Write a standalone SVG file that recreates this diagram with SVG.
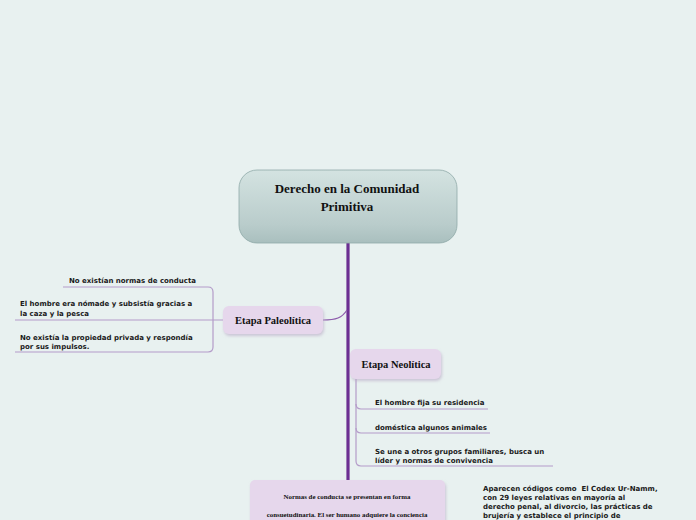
<svg xmlns="http://www.w3.org/2000/svg" width="696" height="520" viewBox="0 0 696 520">
<defs>
<linearGradient id="rootGrad" x1="0" y1="0" x2="0" y2="1">
<stop offset="0" stop-color="#d4e3e1"/>
<stop offset="0.75" stop-color="#b9cccb"/>
<stop offset="1" stop-color="#a9bfbe"/>
</linearGradient>
<filter id="sh" x="-10%" y="-20%" width="120%" height="150%">
<feDropShadow dx="1" dy="2" stdDeviation="1.5" flood-color="#b8a8c4" flood-opacity="0.6"/>
</filter>
</defs>
<style>
.bl{font-family:"Liberation Serif","DejaVu Serif",serif;font-weight:bold;fill:#111}
.t{font-family:"DejaVu Sans","Verdana",sans-serif;font-weight:bold;font-size:7px;fill:#1a1a1a;white-space:pre}
.br{fill:none;stroke:#b49cc9;stroke-width:1.2}
.node{fill:#e6d7ec;filter:url(#sh)}
</style>
<rect width="696" height="520" fill="#e8f1f0"/>
<g id="connectors">
<line x1="348" y1="243" x2="348" y2="482" stroke="#6b2f92" stroke-width="3.2"/>
<path d="M323,320 C336,320 342,318 347,310" fill="none" stroke="#8c5aab" stroke-width="1.2"/>
<path class="br" d="M63,287 H208 Q213,287 213,292 V347 Q213,352 208,352 H15"/>
<path class="br" d="M15,320 H223"/>
<path class="br" d="M356,379 V404 Q356,409 361,409 H488"/>
<path class="br" d="M356,404 V428 Q356,433 361,433 H490"/>
<path class="br" d="M356,428 V461 Q356,466 361,466 H553"/>
</g>
<g id="root">
<rect x="239" y="170" width="218" height="73" rx="18" fill="url(#rootGrad)" stroke="#8fa9a8" stroke-width="0.8"/>
<text class="bl" font-size="13" x="347" y="193" text-anchor="middle">Derecho en la Comunidad</text>
<text class="bl" font-size="13" x="347" y="211" text-anchor="middle">Primitiva</text>
</g>
<g id="paleolitica">
<rect class="node" x="223" y="306" width="100" height="28" rx="6"/>
<text class="bl" font-size="10.5" x="273" y="324" text-anchor="middle">Etapa Paleolítica</text>
</g>
<g id="p1"><text class="t" x="69" y="283">No existían normas de conducta</text></g>
<g id="p2"><text class="t" x="20" y="306">El hombre era nómade y subsistía gracias a</text><text class="t" x="20" y="316">la caza y la pesca</text></g>
<g id="p3"><text class="t" x="20" y="340">No existía la propiedad privada y respondía</text><text class="t" x="20" y="349">por sus impulsos.</text></g>
<g id="neolitica">
<rect class="node" x="350" y="349" width="91" height="30" rx="6"/>
<text class="bl" font-size="10.5" x="396" y="368" text-anchor="middle">Etapa Neolítica</text>
</g>
<g id="n1"><text class="t" x="375" y="405">El hombre fija su residencia</text></g>
<g id="n2"><text class="t" x="375" y="430">doméstica algunos animales</text></g>
<g id="n3"><text class="t" x="375" y="454">Se une a otros grupos familiares, busca un</text><text class="t" x="375" y="463">líder y normas de convivencia</text></g>
<g id="normas">
<rect x="250" y="480" width="195" height="50" rx="5" fill="#e6d7ec" filter="url(#sh)"/>
<text class="bl" font-size="6.9" x="347" y="499" text-anchor="middle">Normas de conducta se presentan en forma</text>
<text class="bl" font-size="6.9" x="347" y="517" text-anchor="middle">consuetudinaria. El ser humano adquiere la conciencia</text>
</g>
<g id="codigos">
<text class="t" x="483" y="491">Aparecen códigos como  El Codex Ur-Namm,</text>
<text class="t" x="483" y="500">con 29 leyes relativas en mayoría al</text>
<text class="t" x="483" y="509">derecho penal, al divorcio, las prácticas de</text>
<text class="t" x="483" y="518">brujería y establece el principio de</text>
</g>
</svg>
